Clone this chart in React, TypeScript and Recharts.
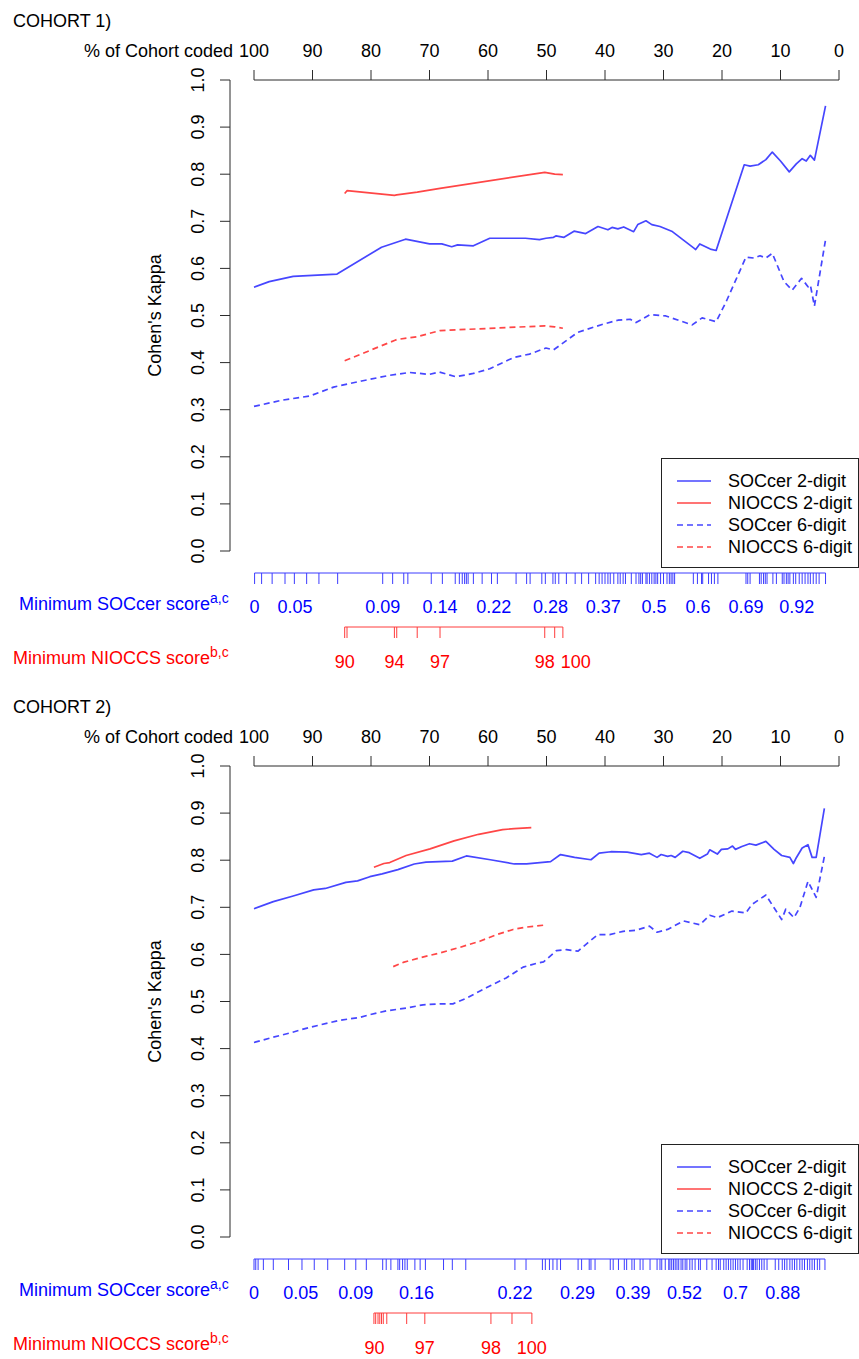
import React from 'react';
import { ComposedChart, Line, Scatter, XAxis, YAxis, ReferenceLine, Legend } from 'recharts';

const FONT = '"Liberation Sans", Arial, Helvetica, sans-serif';
const BLUE = '#0000ff';
const RED = '#ff0000';
const LINE_BLUE = '#4646ff';
const LINE_RED = '#ff4646';
const RUG_BLUE = '#3c3cff';
const RUG_RED = '#ff3c3c';
const AXIS = '#2b2b2b';

const pctTicks = [100, 90, 80, 70, 60, 50, 40, 30, 20, 10, 0];
const kappaTicks = [0, 0.1, 0.2, 0.3, 0.4, 0.5, 0.6, 0.7, 0.8, 0.9, 1];

// ---- COHORT 1 : % of cohort coded vs Cohen's kappa ----
const c1Soc2Pct = [100, 97.4, 93.3, 85.8, 78.2, 74.1, 70.0, 67.9, 66.2, 65.2, 62.5, 59.7, 53.6, 51.2, 50.1, 48.8, 48.4, 47.0, 45.3, 43.3, 41.2, 39.5, 38.8, 37.8, 36.8, 35.1, 34.4, 33.0, 32.0, 30.6, 28.6, 24.8, 24.5, 23.8, 22.0, 21.0, 16.2, 15.2, 13.8, 12.5, 11.4, 10.0, 8.5, 7.3, 6.3, 5.6, 4.9, 4.2, 2.3];
const c1Soc2Kappa = [0.56, 0.572, 0.583, 0.588, 0.645, 0.662, 0.652, 0.652, 0.646, 0.65, 0.648, 0.664, 0.664, 0.661, 0.664, 0.666, 0.669, 0.666, 0.679, 0.674, 0.689, 0.682, 0.687, 0.684, 0.688, 0.678, 0.693, 0.701, 0.693, 0.689, 0.679, 0.643, 0.64, 0.652, 0.641, 0.638, 0.82, 0.817, 0.82, 0.831, 0.847, 0.828, 0.805, 0.822, 0.833, 0.828, 0.84, 0.83, 0.945];

const c1NioPct = [84.5, 84.1, 76.0, 75.6, 72.1, 68.2, 50.3, 48.6, 47.2];
const c1Nio2Kappa = [0.759, 0.765, 0.755, 0.756, 0.762, 0.77, 0.804, 0.8, 0.799];
const c1Nio6Kappa = [0.404, 0.406, 0.447, 0.449, 0.455, 0.468, 0.478, 0.476, 0.473];

const c1Soc6Pct = [100, 95.3, 90.5, 86.4, 81.6, 76.8, 73.4, 70.0, 68.3, 65.5, 62.5, 59.7, 55.6, 52.9, 50.1, 48.8, 44.7, 40.5, 37.8, 35.7, 34.7, 32.3, 29.6, 25.1, 23.4, 21.0, 19.3, 15.9, 14.5, 13.5, 12.5, 11.4, 9.4, 8.0, 6.4, 5.3, 4.9, 4.2, 2.3];
const c1Soc6Kappa = [0.307, 0.32, 0.329, 0.348, 0.361, 0.373, 0.379, 0.375, 0.38, 0.37, 0.377, 0.387, 0.411, 0.418, 0.431, 0.427, 0.464, 0.481, 0.49, 0.492, 0.485, 0.502, 0.499, 0.48, 0.495, 0.487, 0.529, 0.624, 0.622, 0.627, 0.622, 0.632, 0.572, 0.554, 0.579, 0.561, 0.565, 0.52, 0.661];

const c1SocRug = [99.9, 98.7, 96.9, 94.7, 93.1, 91.0, 88.9, 85.7, 78.0, 76.3, 74.4, 73.7, 69.7, 67.8, 65.6, 64.9, 64.4, 64.0, 63.7, 63.4, 62.5, 61.0, 59.4, 58.4, 55.2, 53.4, 52.8, 50.8, 50.2, 48.9, 48.5, 47.9, 46.6, 45.1, 44.0, 42.8, 41.6, 41.0, 40.5, 40.0, 39.5, 39.1, 38.5, 37.8, 37.4, 36.9, 36.5, 35.5, 34.7, 34.2, 33.9, 33.6, 33.0, 32.8, 32.4, 32.0, 31.6, 31.3, 31.0, 30.5, 30.0, 29.4, 29.0, 28.7, 28.4, 28.1, 24.9, 24.2, 23.5, 23.3, 22.3, 21.8, 21.3, 20.7, 15.9, 15.6, 15.2, 13.6, 13.3, 12.9, 12.6, 12.3, 11.3, 10.7, 9.7, 9.4, 9.0, 8.7, 8.4, 7.8, 7.4, 6.8, 6.3, 5.8, 5.3, 4.9, 4.4, 3.9, 3.4, 2.3];
const c1SocLabels = ['0', '0.05', '0.09', '0.14', '0.22', '0.28', '0.37', '0.5', '0.6', '0.69', '0.92'];
const c1SocLabelPct = [99.9, 93.0, 78.0, 68.2, 59.0, 49.3, 40.3, 31.6, 24.1, 15.9, 7.2];
const c1NioLabels = ['90', '94', '97', '98', '100'];
const c1NioLabelPct = [84.5, 76.0, 68.2, 50.3, 45.0];

// ---- COHORT 2 ----
const c2Soc2Pct = [100, 96.7, 93.3, 89.8, 87.8, 84.3, 82.3, 80.2, 78.1, 75.4, 72.6, 70.6, 66.1, 63.7, 59.6, 55.5, 53.4, 49.3, 47.6, 45.2, 42.4, 41.0, 39.0, 36.2, 33.8, 32.4, 31.1, 30.4, 29.3, 28.7, 28.0, 26.7, 25.6, 23.8, 22.5, 22.1, 20.8, 20.1, 19.0, 18.2, 17.7, 16.6, 15.3, 14.2, 12.5, 11.1, 9.8, 8.4, 7.8, 7.4, 6.3, 5.3, 4.6, 3.9, 2.5];
const c2Soc2Kappa = [0.697, 0.712, 0.724, 0.737, 0.74, 0.753, 0.756, 0.765, 0.771, 0.78, 0.792, 0.796, 0.798, 0.809, 0.801, 0.792, 0.792, 0.797, 0.812, 0.806, 0.801, 0.815, 0.818, 0.817, 0.812, 0.815, 0.806, 0.812, 0.808, 0.81, 0.806, 0.819, 0.816, 0.804, 0.813, 0.822, 0.813, 0.823, 0.824, 0.83, 0.823, 0.829, 0.835, 0.832, 0.84, 0.823, 0.81, 0.806, 0.793, 0.803, 0.826, 0.833, 0.806, 0.806, 0.91];

const c2Nio2Pct = [79.5, 77.8, 76.8, 74.0, 69.9, 65.8, 61.6, 57.5, 55.5, 52.6];
const c2Nio2Kappa = [0.785, 0.793, 0.795, 0.81, 0.824, 0.841, 0.855, 0.865, 0.867, 0.869];

const c2Soc6Pct = [100, 96.8, 93.9, 91.1, 88.8, 85.4, 82.0, 80.2, 77.4, 74.0, 71.1, 68.2, 66.0, 63.7, 60.3, 56.9, 54.0, 51.7, 50.5, 48.3, 46.6, 44.6, 42.9, 41.2, 39.2, 36.9, 34.8, 32.4, 31.1, 29.3, 26.6, 23.8, 22.1, 20.8, 18.3, 15.9, 14.9, 12.5, 9.8, 9.1, 7.7, 6.7, 5.3, 3.9, 2.5];
const c2Soc6Kappa = [0.413, 0.424, 0.433, 0.443, 0.45, 0.46, 0.466, 0.472, 0.48, 0.486, 0.493, 0.495, 0.495, 0.507, 0.529, 0.55, 0.573, 0.581, 0.584, 0.608, 0.61, 0.607, 0.625, 0.642, 0.642, 0.649, 0.651, 0.66, 0.647, 0.653, 0.671, 0.663, 0.683, 0.678, 0.692, 0.688, 0.706, 0.726, 0.674, 0.696, 0.678, 0.699, 0.755, 0.721, 0.808];

const c2Nio6Pct = [76.2, 74.5, 71.6, 68.2, 64.8, 61.4, 58.5, 55.7, 53.4, 50.5];
const c2Nio6Kappa = [0.574, 0.583, 0.593, 0.603, 0.615, 0.628, 0.642, 0.653, 0.658, 0.662];

const c2SocRug = [100, 99.7, 99.3, 98.4, 96.7, 94.1, 91.8, 89.7, 87.4, 84.5, 82.6, 80.8, 78.0, 77.4, 76.6, 75.4, 75.1, 74.6, 74.2, 73.8, 72.5, 71.6, 70.7, 67.6, 66.1, 63.8, 55.4, 53.5, 50.7, 50.2, 49.5, 48.9, 48.2, 47.6, 44.6, 44.0, 42.7, 42.4, 41.7, 39.1, 38.6, 37.7, 36.7, 36.3, 35.4, 35.0, 34.0, 33.5, 32.3, 31.1, 30.6, 30.3, 29.7, 29.1, 28.9, 28.6, 28.3, 28.0, 27.7, 27.4, 27.0, 26.7, 26.3, 26.0, 25.5, 25.1, 24.6, 24.0, 23.7, 22.6, 21.7, 21.0, 20.6, 20.3, 19.7, 19.3, 18.9, 18.5, 18.1, 17.7, 17.3, 16.9, 16.4, 15.7, 15.3, 15.0, 14.8, 14.6, 14.3, 14.0, 13.6, 13.2, 12.8, 12.3, 10.9, 10.3, 9.7, 9.3, 8.9, 8.4, 8.0, 7.6, 7.2, 6.7, 6.3, 5.9, 5.4, 5.0, 4.6, 4.2, 3.7, 3.3, 2.4];
const c2NioRug = [79.5, 79.2, 78.8, 78.5, 78.2, 77.9, 77.3, 73.9, 70.8, 59.5, 55.9, 52.5];
const c2SocLabels = ['0', '0.05', '0.09', '0.16', '0.22', '0.29', '0.39', '0.52', '0.7', '0.88'];
const c2SocLabelPct = [100, 92.0, 82.6, 72.2, 55.4, 44.7, 35.2, 26.4, 17.7, 9.6];
const c2NioLabels = ['90', '97', '98', '100'];
const c2NioLabelPct = [79.4, 70.8, 59.5, 52.5];

// ---- layout ----
const W = 859;
const PANEL_H = 686;
const MAIN_H = 580;
const RUG_TOP = 560;
const RUG_H = 120;
const RUG = { socLine: 13, socText: 47, nioLine: 67, nioText: 102 };
const X_PAD = { left: 24, right: 20 };

const toPoints = (xs: number[], ys: number[]) => xs.map((x, i) => ({ x, y: ys[i] }));

const cohorts = [
  {
    title: 'COHORT 1)',
    series: [
      { name: 'SOCcer 2-digit', data: toPoints(c1Soc2Pct, c1Soc2Kappa), color: LINE_BLUE, dashed: false },
      { name: 'NIOCCS 2-digit', data: toPoints(c1NioPct, c1Nio2Kappa), color: LINE_RED, dashed: false },
      { name: 'SOCcer 6-digit', data: toPoints(c1Soc6Pct, c1Soc6Kappa), color: LINE_BLUE, dashed: true },
      { name: 'NIOCCS 6-digit', data: toPoints(c1NioPct, c1Nio6Kappa), color: LINE_RED, dashed: true },
    ],
    socRug: c1SocRug,
    nioRug: c1NioPct,
    socLabels: c1SocLabels,
    socLabelPct: c1SocLabelPct,
    nioLabels: c1NioLabels,
    nioLabelPct: c1NioLabelPct,
  },
  {
    title: 'COHORT 2)',
    series: [
      { name: 'SOCcer 2-digit', data: toPoints(c2Soc2Pct, c2Soc2Kappa), color: LINE_BLUE, dashed: false },
      { name: 'NIOCCS 2-digit', data: toPoints(c2Nio2Pct, c2Nio2Kappa), color: LINE_RED, dashed: false },
      { name: 'SOCcer 6-digit', data: toPoints(c2Soc6Pct, c2Soc6Kappa), color: LINE_BLUE, dashed: true },
      { name: 'NIOCCS 6-digit', data: toPoints(c2Nio6Pct, c2Nio6Kappa), color: LINE_RED, dashed: true },
    ],
    socRug: c2SocRug,
    nioRug: c2NioRug,
    socLabels: c2SocLabels,
    socLabelPct: c2SocLabelPct,
    nioLabels: c2NioLabels,
    nioLabelPct: c2NioLabelPct,
  },
];

const KappaTick = ({ x, y, payload }: any) => (
  <text x={x} y={y} transform={`rotate(-90 ${x} ${y})`} textAnchor="middle" fontSize={18} fontFamily={FONT} fill="#000">
    {Number(payload.value).toFixed(1)}
  </text>
);

// legend keeps the series order (Recharts would sort it by name)
const LegendBox = ({ items }: any) => (
  <div style={{ boxSizing: 'border-box', width: 198, height: 110, border: '1px solid #222', background: '#fff', position: 'relative', fontFamily: FONT, fontSize: 18, color: '#000' }}>
    {items.map((s: any, i: number) => (
      <div key={s.name} style={{ position: 'absolute', left: 0, top: 11 + i * 22, height: 22, width: '100%' }}>
        <svg width={52} height={22} style={{ position: 'absolute', left: 0, top: 0 }}>
          <line x1={15} x2={49} y1={11} y2={11} stroke={s.color} strokeWidth={1.7} strokeDasharray={s.dashed ? '6 4' : undefined} />
        </svg>
        <span style={{ position: 'absolute', left: 66, top: 0, lineHeight: '22px', whiteSpace: 'nowrap' }}>{s.name}</span>
      </div>
    ))}
  </div>
);

const rugTick = (color: string) => (p: any) => (
  <line x1={p.cx} x2={p.cx} y1={p.cy} y2={p.cy + 11} stroke={color} strokeWidth={1} />
);

const rugText = (color: string) => (p: any) => (
  <text x={p.cx} y={p.cy} dy="0.36em" textAnchor="middle" fontSize={18} fontFamily={FONT} fill={color}>
    {p.payload.label}
  </text>
);

const Panel = ({ c, top }: any) => {
  const socLine = [{ x: Math.max(...c.socRug), y: RUG.socLine }, { x: Math.min(...c.socRug), y: RUG.socLine }];
  const nioLine = [{ x: Math.max(...c.nioRug), y: RUG.nioLine }, { x: Math.min(...c.nioRug), y: RUG.nioLine }];
  return (
    <div style={{ position: 'absolute', left: 0, top, width: W, height: PANEL_H }}>
      <svg width={W} height={PANEL_H} style={{ position: 'absolute', left: 0, top: 0 }} fontFamily={FONT} fontSize={18}>
        <text x={13} y={26.5} fill="#000">{c.title}</text>
        <text x={233} y={56.5} textAnchor="end" fill="#000">% of Cohort coded</text>
        <text x={161} y={315.5} transform="rotate(-90 161 315.5)" textAnchor="middle" fill="#000">Cohen's Kappa</text>
        <text x={19} y={609.5} fill={BLUE}>
          Minimum SOCcer score<tspan fontSize={14} dy={-7}>a,c</tspan>
        </text>
        <text x={13} y={663.5} fill={RED}>
          Minimum NIOCCS score<tspan fontSize={14} dy={-7}>b,c</tspan>
        </text>
      </svg>

      <div style={{ position: 'absolute', left: 0, top: 0 }}>
        <ComposedChart width={W} height={MAIN_H} margin={{ top: 40, right: 0, bottom: MAIN_H - 551, left: 170 }}>
          <XAxis
            dataKey="x"
            type="number"
            orientation="top"
            domain={[0, 100]}
            reversed
            ticks={pctTicks}
            interval={0}
            padding={X_PAD}
            height={40}
            axisLine={false}
            tickLine={{ stroke: AXIS }}
            tickSize={10}
            tickMargin={13}
            tick={{ fill: '#000', fontSize: 18, fontFamily: FONT }}
          />
          <YAxis
            type="number"
            domain={[0, 1]}
            ticks={kappaTicks}
            interval={0}
            width={60}
            axisLine={{ stroke: AXIS }}
            tickLine={{ stroke: AXIS }}
            tickSize={10}
            tickMargin={16}
            tick={(p: any) => <KappaTick {...p} />}
          />
          <ReferenceLine segment={[{ x: 100, y: 1 }, { x: 0, y: 1 }]} stroke={AXIS} ifOverflow="visible" />
          {c.series.map((s: any) => (
            <Line
              key={s.name}
              data={s.data}
              dataKey="y"
              name={s.name}
              stroke={s.color}
              strokeWidth={1.7}
              strokeDasharray={s.dashed ? '6 4' : undefined}
              strokeLinejoin="round"
              dot={false}
              activeDot={false}
              isAnimationActive={false}
            />
          ))}
          <Legend
            layout="vertical"
            align="center"
            verticalAlign="middle"
            content={() => <LegendBox items={c.series} />}
            wrapperStyle={{ left: 661, top: 458, width: 198, height: 110 }}
          />
        </ComposedChart>
      </div>

      <div style={{ position: 'absolute', left: 0, top: RUG_TOP }}>
        <ComposedChart width={W} height={RUG_H} margin={{ top: 0, right: 0, bottom: 0, left: 230 }}>
          <XAxis dataKey="x" type="number" domain={[0, 100]} reversed padding={X_PAD} hide />
          <YAxis type="number" domain={[0, RUG_H]} reversed hide />
          <Line data={socLine} dataKey="y" stroke={RUG_BLUE} strokeWidth={1} dot={false} activeDot={false} legendType="none" isAnimationActive={false} />
          <Line data={nioLine} dataKey="y" stroke={RUG_RED} strokeWidth={1} dot={false} activeDot={false} legendType="none" isAnimationActive={false} />
          <Scatter data={c.socRug.map((x: number) => ({ x, y: RUG.socLine }))} dataKey="y" shape={rugTick(RUG_BLUE)} legendType="none" isAnimationActive={false} />
          <Scatter data={c.nioRug.map((x: number) => ({ x, y: RUG.nioLine }))} dataKey="y" shape={rugTick(RUG_RED)} legendType="none" isAnimationActive={false} />
          <Scatter
            data={c.socLabels.map((label: string, i: number) => ({ x: c.socLabelPct[i], y: RUG.socText, label }))}
            dataKey="y"
            shape={rugText(BLUE)}
            legendType="none"
            isAnimationActive={false}
          />
          <Scatter
            data={c.nioLabels.map((label: string, i: number) => ({ x: c.nioLabelPct[i], y: RUG.nioText, label }))}
            dataKey="y"
            shape={rugText(RED)}
            legendType="none"
            isAnimationActive={false}
          />
        </ComposedChart>
      </div>
    </div>
  );
};

export default function App() {
  return (
    <div style={{ position: 'absolute', left: 0, top: 0, width: W, height: 1359, overflow: 'hidden', background: '#fff' }}>
      {cohorts.map((c, i) => (
        <Panel key={c.title} c={c} top={i * PANEL_H} />
      ))}
    </div>
  );
}
